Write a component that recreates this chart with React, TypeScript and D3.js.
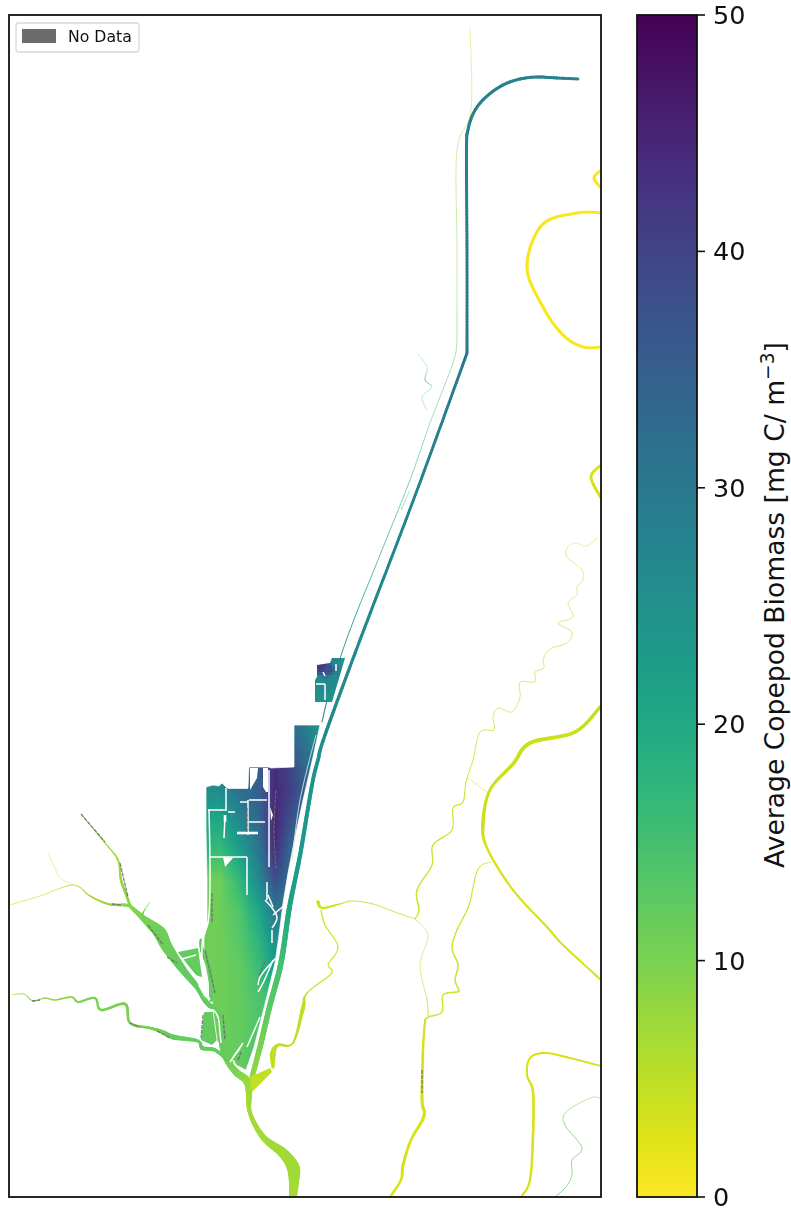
import React, { useMemo } from "react";
import * as d3 from "d3";

type P = number[]; // [x, y, biomass, width]

// Colour bar
const colorDomain = [0, 50];
const colorTicks = [0, 10, 20, 30, 40, 50];
const colorLabel = "Average Copepod Biomass [mg C/ m";

// Channels: map x, map y, biomass, channel width
const canalTop: P[] = [[578,79,28,2.8],[557,78,28,3],[537,77,28,3],[520,79,28,3],[505,84,28,3],[492,92,28,3],[481,102,28,3],[473,114,28,3],[468,130,28,3],[466.5,150,28,3],[467,253,29,2.8],[467,353,30,2.8]];
const canalLower: P[] = [[467,353,30,2.8],[433,447,28,2.8],[407,517,27,2.8],[360,640,26,3],[325,735,26,3.4],[318,760,25,3.6],[312,785,24,3.8],[301,850,23,4.2],[295,880,22,4.4],[289,910,21,5],[281,963,15,5.5],[270,1005,13,5.5],[260,1047,10,5.5],[252,1077,8,5]];
const innerCanalTop: P[] = [[470,27,4,0.4],[471,110,5,0.5],[457,150,6,0.5],[457,250,9,0.5],[457,342,12,0.5]];
const innerCanalLower: P[] = [[457,342,12,0.5],[453,363,14,0.5],[430,423,16,0.5],[410,480,18,0.6],[380,555,22,0.7],[350,630,25,0.9],[330,690,26,1],[322,722,26,1.2]];
const innerGrey: P[] = [[316,735,0,0.9],[300,800,0,0.9],[292,860,0,0.9]];
const faintA: P[] = [[417,353,14,0.3],[427,367,18,0.3],[425,380,26,0.6],[432,387,22,0.3],[422,397,20,0.3],[427,410,20,0.3]];
const faintB: P[] = [[410,490,18,0.3],[401,510,22,0.5]];
const mainRiver: P[] = [[130,906,9,3.5],[143,918,10,6],[150,924,10,9],[160,933,11,13],[167,947,11,11],[183,970,12,7],[197,987,12,5],[207,1003,12,5],[218,1012,12,4],[221,1027,12,4],[222,1047,12,5],[227,1060,11,6],[236,1072,10,7],[247,1081,8,8],[249,1093,7,6],[250,1113,7,4],[263,1137,7,6],[283,1153,7,10],[293,1167,7,13],[294,1180,7,10],[293,1197,7,7]];
const basinRibbon: P[] = [[201,940,13,3],[202,950,12,4],[210,973,12,4],[211,1000,12,4]];
const northArm: P[] = [[81,814,9,0.8],[105,843,8,1.2],[118,860,7,1.8],[121,880,8,2.5],[127,897,9,2.5],[130,906,9,3]];
const westArm: P[] = [[10,905,5,0.6],[40,896,5,0.6],[73,885,6,0.9],[90,896,7,1.6],[108,904,8,2.2],[125,905,9,3],[130,906,10,3]];
const westTwig: P[] = [[48,853,4,0.4],[55,868,4,0.4],[60,878,4,0.4],[73,885,5,0.5]];
const delta2: P[] = [[144,920,11,3],[143,913,10,1.2],[150,902,8,0.6]];
const swRiver: P[] = [[12,995,7,0.7],[24,994,8,1],[33,1001,8,1.3],[45,998,9,1.5],[55,1000,9,1.5],[72,997,9,1.8],[78,1002,10,2],[95,998,10,2.2],[101,1010,10,2.4],[125,1004,10,2.8],[130,1023,10,2.4],[150,1028,10,2.8],[163,1032,11,4],[173,1037,12,5],[198,1041,12,3],[202,1048,12,4],[215,1050,12,3.5],[227,1060,12,3]];
const riverA: P[] = [[601,706,5,3.2],[575,732,4,3.4],[530,743,4,4],[513,764,4,3.4],[490,790,4,2.8],[483,823,4,3.4],[487,848,3,2.4],[513,890,3,2],[547,927,3,2],[563,945,3,2],[601,980,3,1.8]];
const riverB: P[] = [[598,537,5,0.4],[587,546,5,0.4],[575,543,5,0.4],[567,548,5,0.5],[567,557,5,0.5],[582,570,5,0.5],[583,580,5,0.5],[577,587,5,0.5],[577,595,5,0.5],[568,603,5,0.5],[573,617,5,0.6],[558,623,5,0.6],[572,632,5,0.6],[567,643,5,0.6],[550,649,5,0.6],[543,660,5,0.6],[544,668,5,0.6],[535,672,5,0.6],[535,682,5,0.6],[520,682,5,0.6],[520,697,5,0.6],[512,712,5,0.6],[498,708,5,0.6],[493,717,5,0.6],[494,730,5,0.7],[480,732,5,0.7],[473,760,4,0.8],[466,782,4,1],[463,802,4,1.1],[453,808,4,1.1],[452,830,4,1.2],[433,845,4,1.3],[432,865,4,1.3],[417,890,4,1.5],[419,910,4,1.5],[415,919,4,1]];
const branchB: P[] = [[468,778,5,0.5],[487,792,5,0.5]];
const riverC: P[] = [[415,919,5,0.5],[428,935,5,0.5],[420,965,5,0.5],[427,1000,5,0.7],[428,1016,4,1]];
const riverD: P[] = [[492,862,4,0.7],[478,869,4,1],[469,905,4,1.2],[457,930,4,1.3],[452,948,4,1.5],[458,965,4,1.5],[455,980,4,1.5],[459,990,4,1.5],[457,992,4,1.4],[443,995,4,1.4],[442,1012,4,1.4],[428,1017,4,1.5],[425,1020,4,1.8]];
const riverE: P[] = [[425,1020,4,1.8],[423,1050,3,2.4],[422,1100,3,3],[424,1116,3,3],[411,1140,3,2.6],[403,1165,3,3],[401,1180,3,2.4],[390,1197,3,2.4]];
const midWest: P[] = [[415,919,5,0.7],[395,912,5,0.8],[373,904,5,0.8],[352,901,5,0.9],[340,904,4,1.4],[322,908,4,2.4],[318,902,4,4]];
const midSouth: P[] = [[321,910,4,1.4],[325,925,4,1.2],[338,947,4,1.2],[328,965,4,1.2],[332,973,4,1.2],[307,993,5,1.3],[303,1008,5,4],[293,1043,5,1.6],[278,1045,5,3],[273,1053,5,6],[273,1067,5,2.5]];
const riverF: P[] = [[601,1066,3,1.6],[570,1058,3,2],[545,1053,3,2],[530,1058,3,2],[527,1075,3,2],[533,1092,3,2.5],[533,1135,3,2.5],[530,1180,3,2.2],[521,1197,3,2]];
const riverG: P[] = [[600,1098,7,0.6],[590,1098,7,0.6],[566,1112,10,0.6],[565,1125,12,0.7],[582,1148,12,0.7],[572,1160,12,0.7],[572,1175,10,0.7],[566,1187,14,0.7],[555,1197,14,0.7]];
const riverH: P[] = [[601,213,0.5,2.8],[577,213,0.5,2.8],[542,225,0.5,3],[527,267,0.5,3],[543,307,0.5,3],[563,335,0.5,3],[583,347,0.5,2.8],[601,347,0.5,2.6]];
const riverI: P[] = [[601,170,0.5,2.6],[594,178,0.5,3],[601,188,0.5,2.6]];
const riverJ: P[] = [[601,465,3,2.6],[591,477,3,2.8],[601,498,3,2.8]];
const channels = [innerCanalTop, innerCanalLower, faintA, faintB, mainRiver, basinRibbon, northArm, westArm, westTwig, delta2, swRiver, riverA, riverB, branchB, riverC, riverD, riverE, midWest, midSouth, riverF, riverG, riverH, riverI, riverJ, canalTop, canalLower];

// Wetland biomass field, read at these map positions
const fieldX = [200, 220, 240, 260, 275, 290, 305, 320];
const fieldY = [725, 770, 790, 820, 850, 880, 910, 940, 970, 1000, 1070];
const fieldValues = [
  [25, 25, 30, 34, 36, 32, 29, 24],
  [25, 26, 32, 36, 44, 40, 34, 28],
  [26, 26, 32, 35, 44, 41, 35, 28],
  [20, 20, 27, 34, 45, 38, 32, 28],
  [18, 16, 22, 31, 44, 34, 30, 28],
  [11, 11, 17, 27, 38, 33, 30, 28],
  [11, 11, 14, 21, 30, 30, 28, 28],
  [11, 11, 13, 18, 25, 25, 25, 25],
  [11, 11, 12, 16, 22, 20, 20, 20],
  [11, 11, 12, 14, 16, 16, 16, 16],
  [11, 11, 12, 14, 15, 15, 15, 15],
];
const basinOutline = [[206,787],[213,785],[219,786],[222,783],[227,788],[248,788],[249,767],[268,767],[271,768],[294,767],[294,725],[320,725],[313,757],[303,800],[295,837],[288,873],[283,903],[279,935],[275,963],[266,1000],[254,1047],[246,1070],[230,1062],[227,1060],[221,1048],[217,1040],[213,1010],[212,1000],[207,975],[204,955],[204,938],[207,925],[207,880],[206,830]];
const northBlock = [[330,663],[332,658],[345,658],[332,702],[315,702],[315,680],[317,677],[317,665]];
const northField = [[320,665,42],[327,667,38],[335,662,27],[342,660,24],[318,680,26],[332,678,26],[318,698,25],[330,698,24]];
const swPondA = [[178,952],[198,948],[202,977],[195,975],[183,960]];
const swPondB = [[204,1012],[213,1012],[217,1040],[212,1045],[201,1040]];
const arrivalDelta = [[250,1077],[270,1068],[272,1072],[252,1092]];
const pondValue = 12;
const deltaValue = 4.5;

// White levees and open water inside the wetland
const levees: number[][][] = [
  [[208,810],[226,810]], [[226,788],[226,811]], [[228,788],[248,788]], [[248,800],[248,835]], [[240,802],[248,802]],
  [[249,800],[267,800]], [[249,822],[265,822]], [[225,815],[224,838]], [[228,812],[235,812]],
  [[209,810],[208,923],[203,937],[202,960],[205,987],[210,1000]], [[210,857],[247,857]], [[247,857],[247,895]],
  [[269,770],[269,867]], [[267,882],[267,900]],
  [[265,900],[277,917],[272,928]], [[287,903],[273,915]], [[268,895],[273,907]], [[272,930],[272,943]],
  [[277,957],[260,977],[258,985]], [[273,960],[263,983],[258,992]], [[260,1017],[247,1047]], [[243,1043],[230,1062]], [[240,1048],[234,1056]],
  [[203,1012],[213,1010],[218,1017],[220,1033],[221,1043]], [[182,959],[196,955]],
  [[187,966],[197,977]], [[180,956],[200,982]], [[233,1060],[236,1066]],
  [[325,684],[325,700]], [[316,684],[325,684]], [[336,664],[336,671]], [[323,672],[325,676]],
];
const boldLevees: number[][][] = [[[237,833],[258,833]], [[225,815],[225,822]]];
const openWater: number[][][] = [
  [[250,768],[258,768],[257,778],[250,790]],
  [[263,768],[268,768],[268,792],[266,792],[263,787],[263,773]],
  [[270,807],[273,815],[271,821]],
  [[223,857],[233,858],[225,867]],
  [[198,985],[205,982],[209,995],[209,1000],[204,996]],
];
const noData: number[][][] = [
  [[212,893],[212,923]], [[205,950],[212,980],[215,993]], [[223,1015],[225,1040]], [[276,790],[274,830],[276,870]],
  [[81,814],[105,842]], [[120,863],[128,897]], [[112,904],[122,905]], [[148,925],[163,945]], [[167,957],[177,963]],
  [[422,1070],[422,1093]], [[247,808],[247,832]], [[130,1023],[140,1027]], [[157,1031],[170,1038]],
  [[32,1001],[40,1000]], [[259,975],[265,962]], [[203,1015],[201,1038]], [[238,1060],[241,1052]],
];

const legendLabel = "No Data";
const noDataColor = "#6b6b6b";

const mapX = d3.scaleLinear().domain([9, 601]).range([9, 601]);
const mapY = d3.scaleLinear().domain([15, 1197]).range([15, 1197]);
const color = (v: number) => d3.interpolateViridis(1 - (v - colorDomain[0]) / (colorDomain[1] - colorDomain[0]));
const barY = d3.scaleLinear().domain(colorDomain).range([1197, 15]);

function crSample(pts: P[]) {
  const out: P[] = [];
  const n = pts.length;
  for (let i = 0; i < n - 1; i++) {
    const p0 = pts[Math.max(i - 1, 0)], p1 = pts[i], p2 = pts[i + 1], p3 = pts[Math.min(i + 2, n - 1)];
    const steps = Math.max(2, Math.ceil(Math.hypot(p2[0] - p1[0], p2[1] - p1[1]) / 3));
    for (let s = 0; s < steps; s++) {
      const t = s / steps;
      const cr = (a: number, b: number, c: number, d: number) =>
        0.5 * (2 * b + (c - a) * t + (2 * a - 5 * b + 4 * c - d) * t * t + (3 * b - a - 3 * c + d) * t * t * t);
      out.push([cr(p0[0], p1[0], p2[0], p3[0]), cr(p0[1], p1[1], p2[1], p3[1]), p1[2] + (p2[2] - p1[2]) * t, p1[3] + (p2[3] - p1[3]) * t]);
    }
  }
  out.push(pts[n - 1]);
  return out;
}

const bisect = (arr: number[], v: number) => Math.min(arr.length - 2, Math.max(0, d3.bisectRight(arr, v) - 1));
function fieldAt(x: number, y: number) {
  const i = bisect(fieldX, x), j = bisect(fieldY, y);
  const tx = Math.min(1, Math.max(0, (x - fieldX[i]) / (fieldX[i + 1] - fieldX[i])));
  const ty = Math.min(1, Math.max(0, (y - fieldY[j]) / (fieldY[j + 1] - fieldY[j])));
  const a = fieldValues[j][i] * (1 - tx) + fieldValues[j][i + 1] * tx;
  const b = fieldValues[j + 1][i] * (1 - tx) + fieldValues[j + 1][i + 1] * tx;
  return a * (1 - ty) + b * ty;
}

const line = d3.line<number[]>().x((d) => mapX(d[0])).y((d) => mapY(d[1]));
const closed = (pts: number[][]) => line(pts) + "Z";
const smooth = d3.line<number[]>().x((d) => mapX(d[0])).y((d) => mapY(d[1])).curve(d3.curveCatmullRom);

export default function App() {
  const cells = useMemo(() => {
    const out: { x: number; y: number; c: string }[] = [];
    for (let x = 200; x < 322; x += 2) for (let y = 722; y < 1072; y += 2) out.push({ x, y, c: color(fieldAt(x + 1, y + 1)) });
    return out;
  }, []);
  const northCells = useMemo(() => {
    const out: { x: number; y: number; c: string }[] = [];
    for (let x = 314; x < 346; x += 3) for (let y = 657; y < 703; y += 3) {
      let sum = 0, wt = 0;
      northField.forEach((f) => { const w = 1 / (Math.pow(f[0] - x, 2) + Math.pow(f[1] - y, 2) + 4); sum += f[2] * w * w; wt += w * w; });
      out.push({ x, y, c: color(sum / wt) });
    }
    return out;
  }, []);
  const segments = useMemo(() => {
    const out: { a: P; b: P }[] = [];
    channels.forEach((ch) => {
      const s = crSample(ch);
      for (let i = 0; i < s.length - 1; i++) out.push({ a: s[i], b: s[i + 1] });
    });
    return out;
  }, []);
  const barStops = d3.range(0, 1.0001, 0.05);
  return (
    <svg width={791} height={1210} style={{ position: "absolute", left: 0, top: 0, background: "#fff" }} fontFamily="'DejaVu Sans', sans-serif">
      <defs>
        <clipPath id="basin"><path d={closed(basinOutline)} /></clipPath>
        <clipPath id="north"><path d={closed(northBlock)} /></clipPath>
        <clipPath id="frame"><rect x={9} y={15} width={592} height={1182} /></clipPath>
        <filter id="soft" x="-2%" y="-2%" width="104%" height="104%"><feGaussianBlur stdDeviation={0.45} /></filter>
        <linearGradient id="bar" x1="0" y1="1" x2="0" y2="0">
          {barStops.map((t) => <stop key={t} offset={t} stopColor={d3.interpolateViridis(1 - t)} />)}
        </linearGradient>
      </defs>
      <g clipPath="url(#frame)">
        <g filter="url(#soft)">
          <g clipPath="url(#basin)">
            {cells.map((c, i) => <rect key={i} x={mapX(c.x)} y={mapY(c.y)} width={2.2} height={2.2} fill={c.c} />)}
          </g>
          <g clipPath="url(#north)">
            {northCells.map((c, i) => <rect key={i} x={mapX(c.x)} y={mapY(c.y)} width={3.2} height={3.2} fill={c.c} />)}
          </g>
          <path d={closed(swPondA)} fill={color(pondValue)} />
          <path d={closed(swPondB)} fill={color(pondValue)} />
          <path d={closed(basinOutline)} fill="none" stroke="#fff" strokeWidth={1} opacity={0.7} />
          {segments.map((s, i) => (
            <line key={i} x1={mapX(s.a[0])} y1={mapY(s.a[1])} x2={mapX(s.b[0])} y2={mapY(s.b[1])}
              stroke={color(s.a[2])} strokeWidth={s.a[3]} strokeLinecap={s.a[3] > 1.5 ? "round" : "butt"} />
          ))}
          <path d={closed(arrivalDelta)} fill={color(deltaValue)} />
          {openWater.map((p, i) => <path key={i} d={closed(p)} fill="#fff" />)}
          {levees.map((p, i) => <path key={i} d={smooth(p) || ""} fill="none" stroke="#fff" strokeWidth={1.5} />)}
          {boldLevees.map((p, i) => <path key={i} d={smooth(p) || ""} fill="none" stroke="#fff" strokeWidth={2.6} />)}
          {noData.map((p, i) => <path key={i} d={smooth(p) || ""} fill="none" stroke={noDataColor} strokeWidth={1.3} strokeDasharray="4 1" opacity={0.85} />)}
          <path d={smooth(innerGrey) || ""} fill="none" stroke="#cfe6e0" strokeWidth={0.9} />
        </g>
      </g>
      <rect x={9} y={15} width={592} height={1182} fill="none" stroke="#111" strokeWidth={1.8} />

      <rect x={16} y={23} width={123} height={29} rx={3} fill="#fff" stroke="#d8d8d8" strokeWidth={1.3} />
      <rect x={22} y={29} width={34} height={14} fill={noDataColor} />
      <text x={68} y={41.5} fontSize={15.7} fill="#111">{legendLabel}</text>

      <rect x={637} y={15} width={60} height={1182} fill="url(#bar)" />
      <rect x={637} y={15} width={60} height={1182} fill="none" stroke="#111" strokeWidth={1.8} />
      {colorTicks.map((t) => (
        <g key={t}>
          <line x1={697} x2={705} y1={barY(t)} y2={barY(t)} stroke="#111" strokeWidth={1.6} />
          <text x={713} y={barY(t) + 9} fontSize={25.5} fill="#111">{t}</text>
        </g>
      ))}
      <text transform="translate(784,605) rotate(-90)" textAnchor="middle" fontSize={26.6} fill="#111">
        {colorLabel}
        <tspan dy={-10} fontSize={18.6}>{"\u22123"}</tspan>
        <tspan dy={10}>]</tspan>
      </text>
    </svg>
  );
}
